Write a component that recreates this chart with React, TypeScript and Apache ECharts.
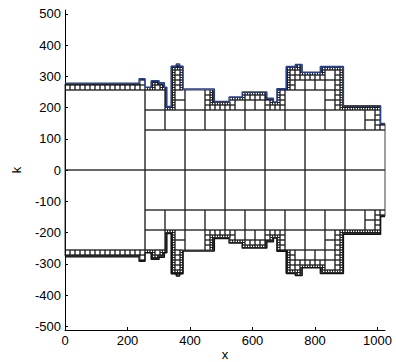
import React, { useEffect, useRef } from 'react';
import * as echarts from 'echarts';

// Interface (top boundary) as a step profile: segment i spans surfaceX[i]..surfaceX[i+1] at height surfaceK[i]
const surfaceX = [0, 237, 256, 276, 301, 318, 326, 340, 356, 367, 378, 478, 525, 567, 646, 667, 678, 708, 737, 759, 817, 891, 1010, 1024];
const surfaceK = [278, 292, 265, 286, 279, 265, 203, 332, 339, 332, 259, 219, 234, 250, 230, 218, 260, 331, 338, 313, 331, 206, 149];

const xTicks = [0, 200, 400, 600, 800, 1000];
const kTicks = [-500, -400, -300, -200, -100, 0, 100, 200, 300, 400, 500];

const X_MAX = 1024;
const K_MAX = 512;
const ROOT_CELL = 256;
const MIN_CELL = 4;

function surfaceRange(x0: number, x1: number): [number, number] {
  let lo = Infinity;
  let hi = -Infinity;
  for (let i = 0; i < surfaceK.length; i++) {
    const a = surfaceX[i];
    const b = surfaceX[i + 1];
    if (b > x0 && a < x1) {
      lo = Math.min(lo, surfaceK[i]);
      hi = Math.max(hi, surfaceK[i]);
    }
  }
  return [lo, hi];
}

// quadtree mesh of the region below the interface (upper half), mirrored below k = 0
function buildCells(): number[][] {
  const cells: number[][] = [];
  const visit = (x0: number, y0: number, s: number) => {
    const [lo, hi] = surfaceRange(x0, x0 + s);
    if (y0 + s <= lo) {
      cells.push([x0, y0, s]);
      return;
    }
    if (y0 >= hi) return;
    if (s <= MIN_CELL) return;
    const h = s / 2;
    visit(x0, y0, h);
    visit(x0 + h, y0, h);
    visit(x0, y0 + h, h);
    visit(x0 + h, y0 + h, h);
  };
  for (let x = 0; x < X_MAX; x += ROOT_CELL) {
    for (let y = 0; y < K_MAX; y += ROOT_CELL) visit(x, y, ROOT_CELL);
  }
  const mirrored = cells.map((c) => [c[0], -(c[1] + c[2]), c[2]]);
  return cells.concat(mirrored);
}

function stepLine(sign: number): number[][] {
  const pts: number[][] = [];
  for (let i = 0; i < surfaceK.length; i++) {
    pts.push([surfaceX[i], sign * surfaceK[i]]);
    pts.push([surfaceX[i + 1], sign * surfaceK[i]]);
  }
  return pts;
}

const FONT = "'Liberation Sans', Arial, Helvetica, sans-serif";

export default function App() {
  const ref = useRef<HTMLDivElement>(null);
  useEffect(() => {
    if (!ref.current) return;
    const chart = echarts.init(ref.current, undefined, { renderer: 'svg' });
    const cells = buildCells();
    chart.setOption({
      animation: false,
      backgroundColor: '#ffffff',
      grid: { left: 65, top: 10, width: 320, height: 320, containLabel: false, outerBoundsMode: 'none' },
      xAxis: {
        type: 'value',
        min: 0,
        max: X_MAX,
        name: 'x',
        nameLocation: 'middle',
        nameGap: 18,
        nameMoveOverlap: false,
        nameTextStyle: { color: '#000', fontSize: 13, fontFamily: FONT },
        splitLine: { show: false },
        axisLine: { show: true, onZero: false, lineStyle: { color: '#000', width: 1 } },
        axisTick: { show: true, inside: true, length: 3, customValues: xTicks, lineStyle: { color: '#000' } },
        axisLabel: {
          margin: 4,
          customValues: xTicks,
          color: '#000',
          fontSize: 13,
          fontFamily: FONT,
          formatter: (v: number) => String(v),
        },
      },
      yAxis: {
        type: 'value',
        min: -K_MAX,
        max: K_MAX,
        name: 'k',
        nameLocation: 'middle',
        nameRotate: 90,
        nameGap: 42,
        nameMoveOverlap: false,
        nameTextStyle: { color: '#000', fontSize: 13, fontFamily: FONT },
        splitLine: { show: false },
        axisLine: { show: true, onZero: false, lineStyle: { color: '#000', width: 1 } },
        axisTick: { show: true, inside: true, length: 3, customValues: kTicks, lineStyle: { color: '#000' } },
        axisLabel: {
          margin: 4,
          customValues: kTicks,
          color: '#000',
          fontSize: 13,
          fontFamily: FONT,
          formatter: (v: number) => String(v),
        },
      },
      series: [
        {
          type: 'custom',
          data: cells,
          encode: { x: 0, y: 1 },
          renderItem: (params: any, api: any) => {
            const x0 = api.value(0);
            const y0 = api.value(1);
            const s = api.value(2);
            const a = api.coord([x0, y0 + s]);
            const b = api.coord([x0 + s, y0]);
            return {
              type: 'rect',
              shape: { x: a[0], y: a[1], width: b[0] - a[0], height: b[1] - a[1] },
              style: { fill: 'none', stroke: '#1c1c1c', lineWidth: 0.85 },
            };
          },
          z: 1,
        },
        {
          type: 'line',
          data: stepLine(1),
          symbol: 'none',
          lineStyle: { color: '#27408b', width: 1.4 },
          z: 3,
        },
        {
          type: 'line',
          data: stepLine(-1),
          symbol: 'none',
          lineStyle: { color: '#111111', width: 1.4 },
          z: 3,
        },
      ],
    });
    return () => chart.dispose();
  }, []);
  return <div ref={ref} style={{ position: 'fixed', left: 0, top: 0, width: 396, height: 362 }} />;
}
